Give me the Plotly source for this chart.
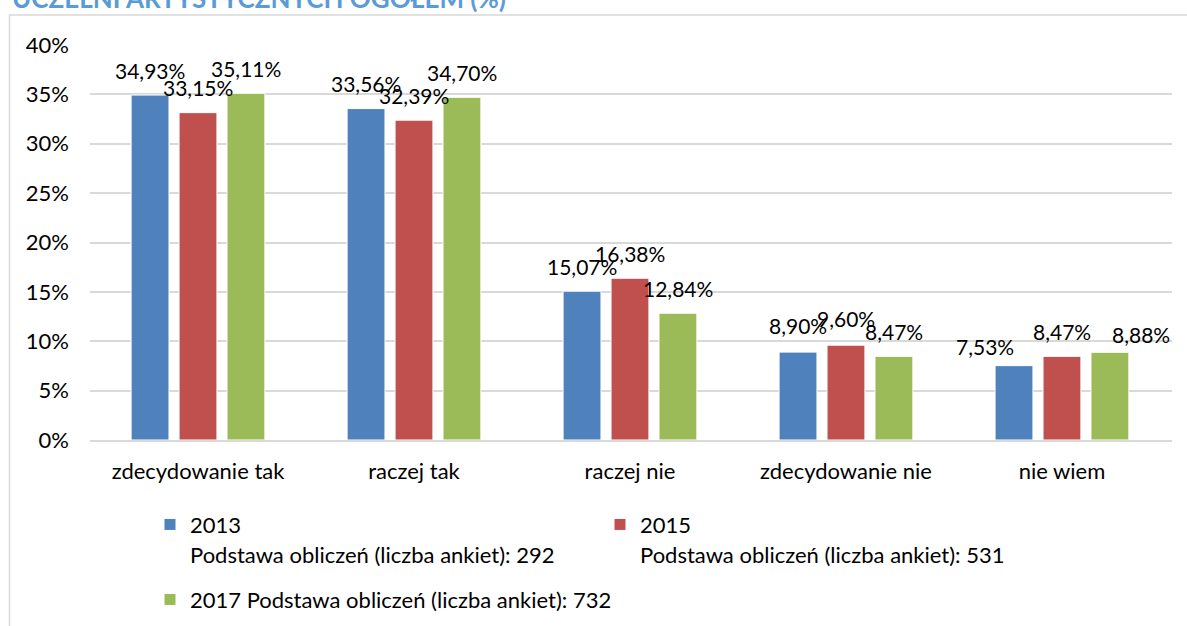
import plotly.graph_objects as go

# ---------------- data ----------------
categories = ["zdecydowanie tak", "raczej tak", "raczej nie", "zdecydowanie nie", "nie wiem"]
series_years = ["2013", "2015", "2017"]
series_notes = [
    "Podstawa obliczeń (liczba ankiet): 292",
    "Podstawa obliczeń (liczba ankiet): 531",
    "Podstawa obliczeń (liczba ankiet): 732",
]
values_2013 = [34.93, 33.56, 15.07, 8.90, 7.53]
values_2015 = [33.15, 32.39, 16.38, 9.60, 8.47]
values_2017 = [35.11, 34.70, 12.84, 8.47, 8.88]
y_tick_values = [0, 5, 10, 15, 20, 25, 30, 35, 40]
y_tick_labels = ["0%", "5%", "10%", "15%", "20%", "25%", "30%", "35%", "40%"]
title_text = "UCZELNI ARTYSTYCZNYCH OGÓŁEM (%)"

# ---------------- styling ----------------
W, H = 1187, 626
FONT = "Lato"
colors = ["#4F81BD", "#C0504D", "#9BBB59"]
grid_color = "#D9D9D9"
M_L, M_R, M_T, M_B = 90, 15, 45, 186
plot_w = W - M_L - M_R
plot_h = H - M_T - M_B
BARGAP = 0.334
BARGROUPGAP = 0.21
cat_w = plot_w / len(categories)
slot_px = cat_w * (1 - BARGAP) / 3


def px_to_paper_x(px):
    return (px - M_L) / plot_w


def px_to_paper_y(py):
    return (H - M_B - py) / plot_h


# label offsets (pixels) for manually placed data labels
LABEL_BASE_DY = 25
label_dx = {(0, 4): -29, (2, 4): 31}
label_dy = {(0, 4): 19, (2, 4): 18, (0, 3): 27, (1, 3): 27}

series_values = [values_2013, values_2015, values_2017]

fig = go.Figure()
legend_names = [
    series_years[0] + "<br>" + series_notes[0],
    series_years[1] + "<br>" + series_notes[1],
    series_years[2] + " " + series_notes[2],
]
legend_ids = ["legend", "legend", "legend2"]
SPAN = "<span style='font-size:22px'>"
for i, vals in enumerate(series_values):
    name = SPAN + legend_names[i].replace("<br>", "</span><br>" + SPAN) + "</span>"
    fig.add_trace(go.Bar(
        x=categories, y=vals, name=name,
        marker=dict(color=colors[i], line=dict(color="white", width=1)),
        legend=legend_ids[i],
        hoverinfo="skip",
    ))

annotations = []
for i, vals in enumerate(series_values):
    for j, v in enumerate(vals):
        annotations.append(dict(
            x=categories[j], y=v, xref="x", yref="y",
            text=f"{v:.2f}".replace(".", ",") + "%",
            showarrow=False, yanchor="middle", xanchor="center",
            xshift=(i - 1) * slot_px + label_dx.get((i, j), 0),
            yshift=label_dy.get((i, j), LABEL_BASE_DY),
            font=dict(family=FONT, size=21, color="black"),
        ))

annotations.append(dict(
    text="<b>" + title_text + "</b>", xref="paper", yref="paper",
    x=px_to_paper_x(10), y=px_to_paper_y(-2), xanchor="left", yanchor="middle", showarrow=False,
    font=dict(family=FONT, size=26, color="#5B9BD5"),
))

fig.update_layout(
    width=W, height=H,
    margin=dict(l=M_L, r=M_R, t=M_T, b=M_B, autoexpand=False),
    paper_bgcolor="white", plot_bgcolor="white",
    font=dict(family=FONT, size=22, color="black"),
    barmode="group", bargap=BARGAP, bargroupgap=BARGROUPGAP,
    annotations=annotations,
    legend=dict(
        orientation="h", xref="container", yref="container",
        x=150 / W, y=1 - 503 / H, xanchor="left", yanchor="top",
        entrywidth=405, entrywidthmode="pixels",
        font=dict(family=FONT, size=23, color="black"),
        valign="top", bgcolor="rgba(0,0,0,0)", traceorder="normal",
    ),
    legend2=dict(
        orientation="h", xref="container", yref="container",
        x=150 / W, y=1 - 578 / H, xanchor="left", yanchor="top",
        font=dict(family=FONT, size=23, color="black"),
        valign="top", bgcolor="rgba(0,0,0,0)",
    ),
    shapes=[dict(
        type="rect", xref="paper", yref="paper",
        x0=px_to_paper_x(9.5), x1=px_to_paper_x(W + 5),
        y0=px_to_paper_y(H + 5), y1=px_to_paper_y(15),
        line=dict(color=grid_color, width=1.5), fillcolor="rgba(0,0,0,0)", layer="below",
    )],
)
fig.update_xaxes(
    showgrid=False, showline=True, linecolor=grid_color, linewidth=1.5,
    ticks="", ticklabelstandoff=11, tickfont=dict(family=FONT, size=22, color="black"),
)
fig.update_yaxes(
    range=[0, 40], tickvals=y_tick_values, ticktext=y_tick_labels,
    showgrid=True, gridcolor=grid_color, gridwidth=1.5, zeroline=False,
    showline=False, ticks="", ticklabelstandoff=20,
    tickfont=dict(family=FONT, size=22, color="black"),
)

fig.write_html("out.html", config={"displayModeBar": False},
               post_script="document.body.style.margin='0';")
